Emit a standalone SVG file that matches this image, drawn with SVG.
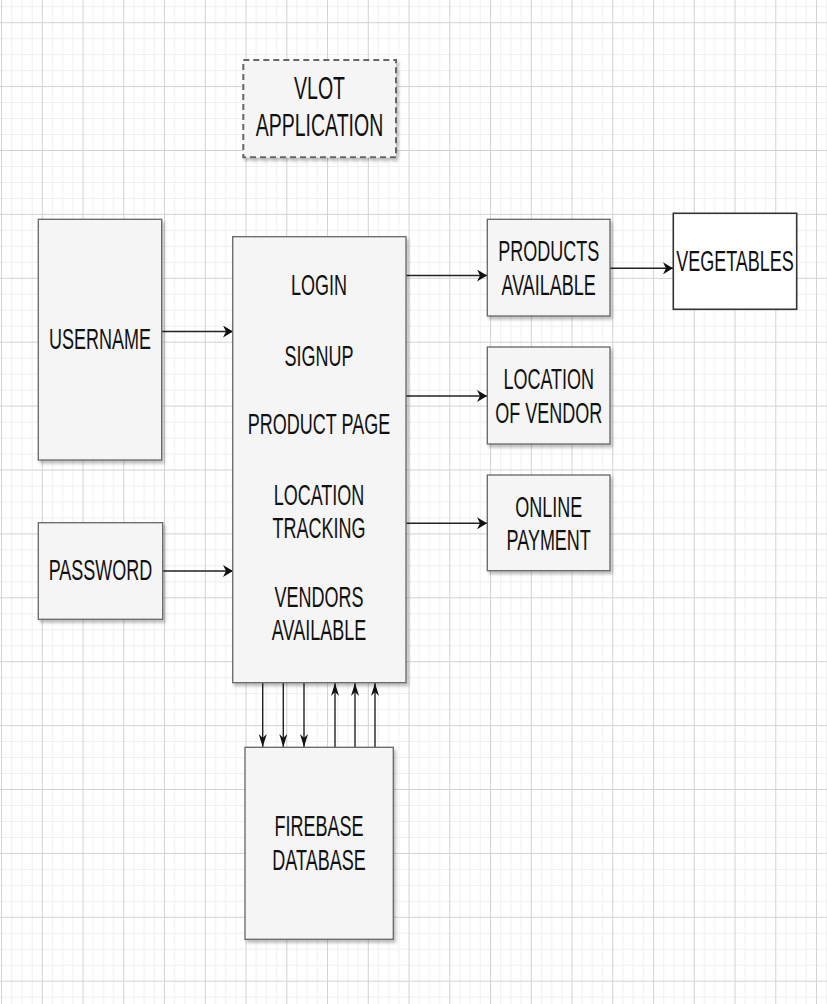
<svg xmlns="http://www.w3.org/2000/svg" width="827" height="1004" viewBox="0 0 827 1004">
<defs>
<style>
.box{fill:#f5f5f5;stroke:#666;stroke-width:1.3;filter:url(#sh)}
.t{font-family:"Liberation Sans",Arial,sans-serif;font-size:18px;fill:#111;text-anchor:middle}
.c{stroke:#222;stroke-width:1.4;fill:none}
.h{marker-end:url(#ah)}
.v{marker-end:url(#av)}
</style>
<filter id="sh" x="-10%" y="-10%" width="130%" height="130%">
<feDropShadow dx="2" dy="3" stdDeviation="1.5" flood-color="#000" flood-opacity="0.25"/>
</filter>
<pattern id="grid" patternUnits="userSpaceOnUse" x="1.05" y="22.2" width="40.75" height="63.9">
<rect x="10.19" y="0" width="1" height="63.9" fill="#efefef"/>
<rect x="20.37" y="0" width="1" height="63.9" fill="#efefef"/>
<rect x="30.56" y="0" width="1" height="63.9" fill="#efefef"/>
<rect x="0" y="15.97" width="40.75" height="1" fill="#efefef"/>
<rect x="0" y="31.95" width="40.75" height="1" fill="#efefef"/>
<rect x="0" y="47.93" width="40.75" height="1" fill="#efefef"/>
<rect x="0" y="0" width="1" height="63.9" fill="#d2d2d2"/>
<rect x="0" y="0" width="40.75" height="1" fill="#d2d2d2"/>
</pattern>
<marker id="ah" viewBox="0 0 10 12" markerWidth="10" markerHeight="12" refX="10" refY="6" orient="auto" markerUnits="userSpaceOnUse">
<path d="M0,0 L10,6 L0,12 L3,6 Z" fill="#111"/>
</marker>
<marker id="av" viewBox="0 0 13 8" markerWidth="13" markerHeight="8" refX="13" refY="4" orient="auto" markerUnits="userSpaceOnUse">
<path d="M0,0 L13,4 L0,8 L4,4 Z" fill="#111"/>
</marker>
</defs>
<rect width="827" height="1004" fill="#fff"/>
<rect width="827" height="1004" fill="url(#grid)"/>

<g id="connectors">
<path class="c h" d="M162,331.5 H233"/>
<path class="c h" d="M163,571 H233"/>
<path class="c h" d="M406,275.5 H487"/>
<path class="c h" d="M610,268.3 H673"/>
<path class="c h" d="M406,396 H487"/>
<path class="c h" d="M406,523.3 H487"/>
<path class="c v" d="M262.7,683 V747"/>
<path class="c v" d="M283.3,683 V747"/>
<path class="c v" d="M304,683 V747"/>
<path class="c v" d="M335,747 V683"/>
<path class="c v" d="M355,747 V683"/>
<path class="c v" d="M375,747 V683"/>
</g>

<g id="vlot">
<rect x="243.3" y="60" width="152.7" height="97.3" fill="#f5f5f5" stroke="#666" stroke-width="2" stroke-dasharray="6,4" filter="url(#sh)"/>
<text class="t" style="font-size:19.5px" transform="translate(319.5,99) scale(1,1.6)">VLOT</text>
<text class="t" style="font-size:19.5px" transform="translate(319.5,136) scale(1,1.6)">APPLICATION</text>
</g>

<g id="username">
<rect class="box" x="38.3" y="219.3" width="123.4" height="240.7"/>
<text class="t" transform="translate(100,349) scale(1,1.6)">USERNAME</text>
</g>

<g id="password">
<rect class="box" x="38.3" y="522.7" width="124.4" height="96.6"/>
<text class="t" transform="translate(100.5,580) scale(1,1.6)">PASSWORD</text>
</g>

<g id="main">
<rect class="box" x="232.7" y="236.7" width="173.3" height="446"/>
<text class="t" transform="translate(319,295) scale(1,1.6)">LOGIN</text>
<text class="t" transform="translate(319,366) scale(1,1.6)">SIGNUP</text>
<text class="t" transform="translate(319,434) scale(1,1.6)">PRODUCT PAGE</text>
<text class="t" transform="translate(319,505) scale(1,1.6)">LOCATION</text>
<text class="t" transform="translate(319,538.3) scale(1,1.6)">TRACKING</text>
<text class="t" transform="translate(319,606.7) scale(1,1.6)">VENDORS</text>
<text class="t" transform="translate(319,640) scale(1,1.6)">AVAILABLE</text>
</g>

<g id="products">
<rect class="box" x="487.3" y="219.3" width="122.7" height="96.7"/>
<text class="t" transform="translate(548.7,261) scale(1,1.6)">PRODUCTS</text>
<text class="t" transform="translate(548.7,295) scale(1,1.6)">AVAILABLE</text>
</g>

<g id="vegetables">
<rect x="673.3" y="213.3" width="123.4" height="96" fill="#fff" stroke="#333" stroke-width="1.6"/>
<text class="t" transform="translate(735,270.7) scale(1,1.6)">VEGETABLES</text>
</g>

<g id="location">
<rect class="box" x="487.3" y="347" width="122.7" height="97"/>
<text class="t" transform="translate(548.7,389) scale(1,1.6)">LOCATION</text>
<text class="t" transform="translate(548.7,423) scale(1,1.6)">OF VENDOR</text>
</g>

<g id="payment">
<rect class="box" x="487.3" y="475" width="122.7" height="95.7"/>
<text class="t" transform="translate(548.7,516.7) scale(1,1.6)">ONLINE</text>
<text class="t" transform="translate(548.7,550) scale(1,1.6)">PAYMENT</text>
</g>

<g id="firebase">
<rect class="box" x="245" y="747.3" width="148.3" height="192"/>
<text class="t" transform="translate(319,836) scale(1,1.6)">FIREBASE</text>
<text class="t" transform="translate(319,870) scale(1,1.6)">DATABASE</text>
</g>
</svg>
